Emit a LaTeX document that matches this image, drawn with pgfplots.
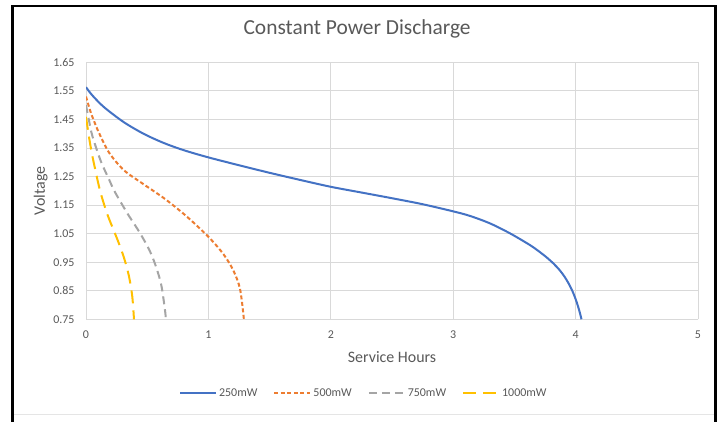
\documentclass[border=0pt]{standalone}
\usepackage{pgfplots}
\pgfplotsset{compat=1.18}
\usepackage{fontspec}
\setmainfont{Carlito}
\definecolor{cblue}{HTML}{4472C4}
\definecolor{corange}{HTML}{ED7D31}
\definecolor{cgray}{HTML}{A5A5A5}
\definecolor{cyellow}{HTML}{FFC000}
\definecolor{txt}{HTML}{595959}
\definecolor{gridc}{HTML}{D9D9D9}
\begin{document}
\begin{tikzpicture}
\useasboundingbox (0,0) rectangle (720bp,422bp);
\fill[white] (0,0) rectangle (720bp,422bp);
\begin{axis}[
  at={(86bp,102.7bp)}, anchor=south west,
  scale only axis, width=612bp, height=257bp,
  xmin=0, xmax=5, ymin=0.75, ymax=1.65,
  xtick={0,1,2,3,4,5},
  ytick={0.75,0.85,0.95,1.05,1.15,1.25,1.35,1.45,1.55,1.65},
  yticklabel style={/pgf/number format/fixed, /pgf/number format/fixed zerofill, /pgf/number format/precision=2},
  /pgf/number format/assume math mode=true,
  grid=major, major grid style={draw=gridc, line width=0.8bp},
  axis lines*=left,
  x axis line style={draw=gridc, line width=0.8bp, -},
  y axis line style={draw=none, -},
  major tick length=0pt,
  tick label style={font=\fontsize{12}{14}\selectfont, text=txt},
  xticklabel style={yshift=-8bp},
  yticklabel style={xshift=-8bp},
  title={Constant Power Discharge},
  title style={at={(axis description cs:0.443,1)}, anchor=base, yshift=22.3bp, font=\fontsize{21.5}{25}\selectfont, text=txt},
  xlabel={Service Hours},
  xlabel style={at={(axis description cs:0.5,-0.170)}, anchor=base, font=\fontsize{16}{19}\selectfont, text=txt},
  ylabel={Voltage},
  ylabel style={at={(axis description cs:-0.067,0.5)}, anchor=base, font=\fontsize{16}{19}\selectfont, text=txt},
  legend columns=4,
  legend style={draw=none, fill=none, at={(axis description cs:0.454,-0.287)}, anchor=center,
    font=\fontsize{12}{14}\selectfont, text=txt,
    /tikz/every even column/.append style={column sep=14bp}},
  legend image code/.code={\draw[#1] (0bp,0bp) -- (36bp,0bp);},
  every axis plot/.append style={line width=2bp, line join=round, smooth, tension=0.5},
]
\addplot[cblue, solid] coordinates {
(0,1.563) (0.05,1.535) (0.147,1.493) (0.31,1.440) (0.474,1.399) (0.638,1.367)
(0.8,1.342) (1.0,1.317) (1.25,1.2895) (1.5,1.263) (1.75,1.238) (2.0,1.214)
(2.25,1.194) (2.5,1.174) (2.75,1.153) (3.0,1.128) (3.137,1.112) (3.30,1.086)
(3.464,1.051) (3.627,1.010) (3.70,0.988) (3.76,0.968) (3.82,0.945) (3.87,0.922)
(3.91,0.899) (3.945,0.874) (3.975,0.848) (4.0,0.821) (4.02,0.795) (4.036,0.771)
(4.048,0.75)};
\addlegendentry{250mW}
\addplot[corange, dash pattern=on 4bp off 2.5bp] coordinates {
(0,1.530) (0.033,1.482) (0.065,1.445) (0.106,1.403) (0.188,1.334) (0.31,1.272)
(0.474,1.222) (0.65,1.170) (0.823,1.110) (1.0,1.039) (1.123,0.978) (1.205,0.920)
(1.259,0.855) (1.29,0.75)};
\addlegendentry{500mW}
\addplot[cgray, dash pattern=on 8bp off 5bp] coordinates {
(0,1.500) (0.025,1.445) (0.052,1.392) (0.12,1.305) (0.188,1.240) (0.236,1.196)
(0.338,1.121) (0.434,1.057) (0.515,0.995) (0.569,0.938) (0.615,0.870) (0.646,0.78)
(0.652,0.75)};
\addlegendentry{750mW}
\addplot[cyellow, dash pattern=on 13bp off 7bp] coordinates {
(0,1.459) (0.025,1.387) (0.052,1.322) (0.093,1.240) (0.12,1.192) (0.174,1.118)
(0.256,1.030) (0.31,0.966) (0.351,0.901) (0.378,0.830) (0.392,0.75)};
\addlegendentry{1000mW}
\end{axis}
\draw[gray!20, line width=1bp] (14bp,7bp) -- (714bp,7bp);
\draw[black, line width=2.5bp] (12.5bp,0bp) -- (12.5bp,416bp) -- (715.5bp,416bp) -- (715.5bp,0bp);
\end{tikzpicture}
\end{document}
